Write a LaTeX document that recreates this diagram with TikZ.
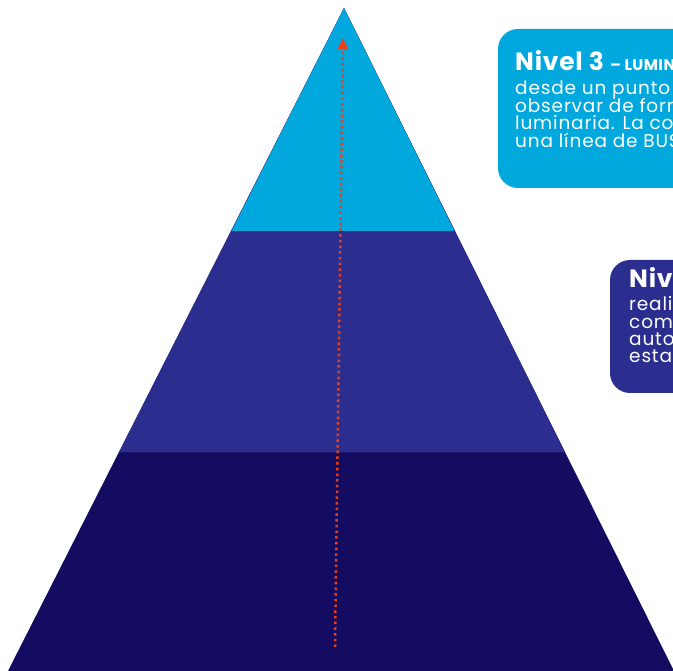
\documentclass[tikz,border=0pt]{standalone}
\usepackage{fontspec}
\setmainfont{Poppins}
\newfontfamily\boxbodyfont{Poppins}[LetterSpace=4.5]
\newfontfamily\boxtitlefont{Poppins}[LetterSpace=3]
\usetikzlibrary{arrows.meta}
\definecolor{lvlcyan}{HTML}{00A8DD}
\definecolor{lvlmid}{HTML}{2B2E8F}
\definecolor{lvldark}{HTML}{140C60}
\definecolor{arrowred}{HTML}{E8401C}
\tikzset{
  infobox/.style={rounded corners=20pt},
  titletext/.style={anchor=base west, inner sep=0pt, text=white, font=\boxtitlefont\fontsize{25}{27}\selectfont\bfseries},
  bodytext/.style={anchor=base west, inner sep=0pt, text=white, font=\boxbodyfont\fontsize{18.5}{19}\selectfont},
  dotarrow/.style={arrowred, line width=2.5pt, dash pattern=on 2.5pt off 3.2pt, -{Triangle[width=10pt,length=11pt]}}
}
\begin{document}
\begin{tikzpicture}[x=1pt,y=-1pt]
\useasboundingbox (0,0) rectangle (673,671);
\clip (0,0) rectangle (673,671);
% pyramid
\coordinate (apex) at (344,8);
\coordinate (bl) at (8,671);
\coordinate (br) at (674,671);
\coordinate (l2) at (119,452.5);
\coordinate (r2) at (565,452.5);
\coordinate (l3) at (231.5,231);
\coordinate (r3) at (454.5,231);
\fill[lvldark] (apex) -- (br) -- (bl) -- cycle;
\fill[lvlmid] (apex) -- (r2) -- (l2) -- cycle;
\fill[lvlcyan, rounded corners=1.5pt] (apex) -- (r3) [sharp corners] -- (l3) -- cycle;
% arrow
\coordinate (arrS) at (335,647);
\coordinate (arrE) at (343,38);
\draw[dotarrow] (arrS) -- (arrE);
% box level 3
\fill[lvlcyan, infobox] (498,29) rectangle (740,188);
\node[titletext] (t3) at (515,71) {Nivel 3 {\fontsize{15.5}{17}\selectfont – LUMINARIA}};
\node[bodytext] (b3a) at (515,95) {desde un punto};
\node[bodytext] (b3b) at (515,112.5) {observar de forma};
\node[bodytext] (b3c) at (515,130) {luminaria. La comunicación};
\node[bodytext] (b3d) at (515,147.5) {una línea de BUS};
% box level 2
\fill[lvlmid, infobox] (610,260) rectangle (760,393);
\node[titletext] (t2) at (629,288) {Nivel 2};
\node[bodytext] (b2a) at (629,311) {realiza};
\node[bodytext] (b2b) at (629,328.3) {comunicación};
\node[bodytext] (b2c) at (629,345.6) {automática};
\node[bodytext] (b2d) at (629,363) {estado};
\end{tikzpicture}
\end{document}
